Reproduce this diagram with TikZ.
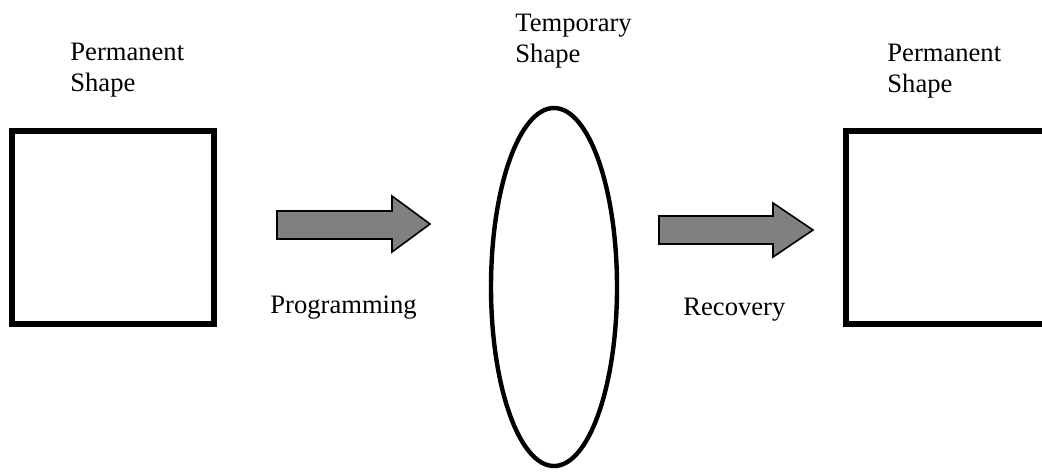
\documentclass[tikz,border=0pt]{standalone}
\usepackage{fontspec}
\setmainfont{Liberation Serif}
\usepackage{tikz}
\usetikzlibrary{positioning,shapes}

\begin{document}
\begin{tikzpicture}[x=0.5pt,y=-0.5pt]
\tikzstyle{every node}+=[inner sep=0pt, font=\fontsize{13.3}{15.5}\selectfont]
\tikzstyle{shapebox}=[draw=black, line width=3pt, minimum width=101pt, minimum height=96.5pt]
\tikzstyle{tempshape}=[ellipse, draw=black, line width=2.2pt, minimum width=63pt, minimum height=179pt]
\tikzstyle{blockarrow}=[draw=black, line width=0.8pt, fill=black!50]
\tikzstyle{caption}=[align=left, anchor=base west]
\path [use as bounding box, clip] (0,0) rectangle (1042,472);
% shapes
\node [shapebox] (perm1) at (113,227.5) {};
\node [tempshape] (temp) at (554,287) {};
\node [shapebox] (perm2) at (947,227.5) {};
% captions
\node [caption] (perm1label) at (70,91) {Permanent\\Shape};
\node [caption] (templabel) at (515,62) {Temporary\\Shape};
\node [caption] (perm2label) at (887,92) {Permanent\\Shape};
\node [caption] (proglabel) at (270,313) {Programming};
\node [caption] (reclabel) at (683,315) {Recovery};
% arrows
\filldraw [blockarrow] (277,211) -- (392,211) -- (392,196) -- (430,224) -- (392,252) -- (392,239) -- (277,239) -- cycle;
\filldraw [blockarrow] (659,216) -- (773,216) -- (773,203) -- (813,230) -- (773,257) -- (773,244) -- (659,244) -- cycle;
\end{tikzpicture}
\end{document}
